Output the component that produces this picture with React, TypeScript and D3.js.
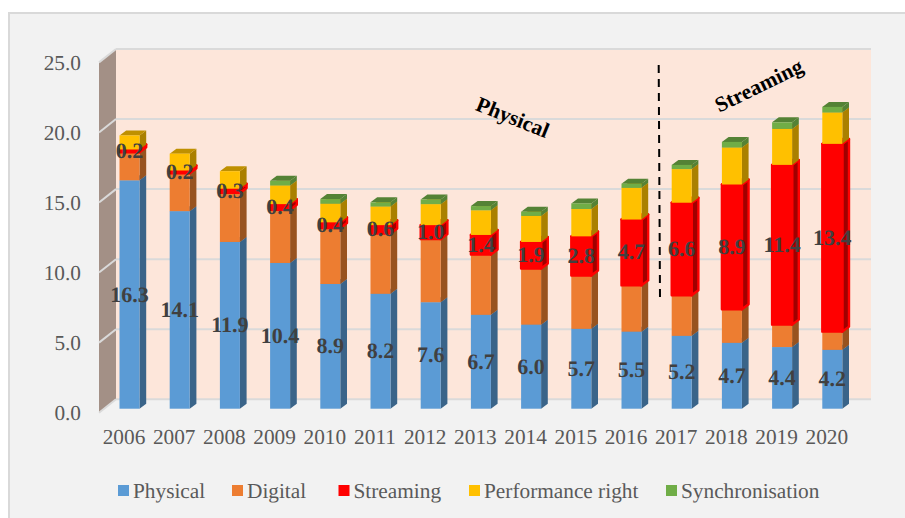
import React from 'react';
import * as d3 from 'd3';

const years = ['2006', '2007', '2008', '2009', '2010', '2011', '2012', '2013', '2014', '2015', '2016', '2017', '2018', '2019', '2020'];
const physical = [16.3, 14.1, 11.9, 10.4, 8.9, 8.2, 7.6, 6.7, 6.0, 5.7, 5.5, 5.2, 4.7, 4.4, 4.2];
const digital = [2.0, 2.7, 3.5, 3.8, 4.0, 4.3, 4.5, 4.3, 4.0, 3.8, 3.3, 2.9, 2.4, 1.6, 1.3];
const streaming = [0.2, 0.2, 0.3, 0.4, 0.4, 0.6, 1.0, 1.4, 1.9, 2.8, 4.7, 6.6, 8.9, 11.4, 13.4];
const performance_ = [1.0, 1.2, 1.25, 1.33, 1.33, 1.33, 1.5, 1.76, 1.86, 1.95, 2.26, 2.4, 2.64, 2.57, 2.24];
const synchronisation = [0, 0, 0, 0.33, 0.33, 0.3, 0.33, 0.3, 0.3, 0.4, 0.3, 0.3, 0.4, 0.47, 0.4];
const yTicks = [0, 5, 10, 15, 20, 25];

const seriesNames = ['Physical', 'Digital', 'Streaming', 'Performance right', 'Synchronisation'];
const seriesValues = [physical, digital, streaming, performance_, synchronisation];
const frontColors = ['#5B9BD5', '#ED7D31', '#FF0000', '#FFC000', '#70AD47'];
const sideColors = ['#3A6489', '#98531F', '#A00000', '#AA8000', '#548235'];
const topColors = ['#45749F', '#B25E25', '#C00000', '#BF9000', '#548235'];
const labelledSeries = [0, 2];
const legendX = [118, 232, 338.5, 469, 666];

const FONT = '"Liberation Serif", serif';
const BAR_DX = 6.7;
const BAR_DY = 5;
const FLOOR_DY = 9.4;
const WALL_DX = 17;
const WALL_DY = 13.4;

const rows = years.map((y, i) => {
  const row: any = { year: y };
  seriesNames.forEach((n, s) => { row[n] = seriesValues[s][i]; });
  return row;
});
const stacked = d3.stack().keys(seriesNames)(rows);

// back wall scale, bars and the side wall are offset from it
const y = d3.scaleLinear().domain([0, 25]).range([399.3, 49]);
const x = d3.scaleBand().domain(years).range([104.4, 857.4]).paddingInner(0.6016).paddingOuter(0.3008);

const poly = (pts: [number, number][]) => d3.line()(pts) + 'Z';

export default function App() {
  const w = x.bandwidth();
  const wallLeft = 116 - WALL_DX;
  return (
    <svg width={905} height={518} style={{ position: 'absolute', left: 0, top: 0, display: 'block' }} fontFamily={FONT} textRendering="geometricPrecision">
      <rect width={905} height={518} fill="#FFFFFF" />
      <rect x={9} y={13} width={920} height={540} fill="#F2F2F2" stroke="#D9D9D9" strokeWidth={2} />

      {/* walls */}
      <rect x={116} y={y(25)} width={871 - 116} height={y(0) - y(25)} fill="#FDE6DA" />
      <path d={poly([[wallLeft, y(25) + WALL_DY], [116, y(25)], [116, y(0)], [wallLeft, y(0) + WALL_DY]])} fill="#A39086" />
      {yTicks.map(t => (
        <g key={t}>
          <line x1={116} x2={871} y1={y(t)} y2={y(t)} stroke="#DADADA" strokeWidth={2} />
          <line x1={wallLeft} x2={116} y1={y(t) + WALL_DY} y2={y(t)} stroke="#DADADA" strokeWidth={2} />
          <text x={81} y={y(t) + WALL_DY + 7.5} textAnchor="end" fontSize={21.3} fill="#595959">{t.toFixed(1)}</text>
        </g>
      ))}

      {/* bars */}
      {years.map((yr, i) => (
        <g key={yr}>
          {stacked.map((layer, s) => {
            if (seriesValues[s][i] === 0) return null;
            const x0 = x(yr) as number;
            const x1 = x0 + w;
            const bottom = y(layer[i][0]) + FLOOR_DY;
            const top = y(layer[i][1]) + FLOOR_DY;
            const isRed = s === 2;
            const edge = isRed ? { stroke: '#FF0000', strokeWidth: 2.4, strokeLinejoin: 'round' as const } : {};
            return (
              <g key={s}>
                <path d={poly([[x1, bottom], [x1 + BAR_DX, bottom - BAR_DY], [x1 + BAR_DX, top - BAR_DY], [x1, top]])} fill={sideColors[s]} {...edge} />
                <path d={poly([[x0, top], [x1, top], [x1 + BAR_DX, top - BAR_DY], [x0 + BAR_DX, top - BAR_DY]])} fill={topColors[s]} {...edge} />
                <rect x={x0} y={top} width={w} height={bottom - top} fill={frontColors[s]} {...edge} />
              </g>
            );
          })}
        </g>
      ))}

      {/* data labels */}
      {labelledSeries.map(s =>
        years.map((yr, i) => (
          <text
            key={yr + s}
            x={(x(yr) as number) + w / 2}
            y={(y(stacked[s][i][0]) + y(stacked[s][i][1])) / 2 + FLOOR_DY + 7}
            textAnchor="middle"
            fontSize={22}
            fontWeight="bold"
            fill="#404040"
          >
            {seriesValues[s][i].toFixed(1)}
          </text>
        ))
      )}

      {/* category labels */}
      {years.map(yr => (
        <text key={yr} x={(x(yr) as number) + w / 2 - 5.5} y={444} textAnchor="middle" fontSize={21.3} fill="#595959">{yr}</text>
      ))}

      {/* annotations */}
      <line x1={658.7} y1={65} x2={660} y2={298} stroke="#000000" strokeWidth={2} strokeDasharray="8 6" />
      <text transform="translate(510,124) rotate(22)" textAnchor="middle" fontSize={21.5} fontWeight="bold" fill="#000000">Physical</text>
      <text transform="translate(762,92) rotate(-26)" textAnchor="middle" fontSize={21.5} fontWeight="bold" fill="#000000">Streaming</text>

      {/* legend */}
      {seriesNames.map((n, s) => (
        <g key={n}>
          <rect x={legendX[s]} y={485} width={11} height={11} fill={frontColors[s]} />
          <text x={legendX[s] + 15} y={497.7} fontSize={21.3} fill="#595959">{n}</text>
        </g>
      ))}
    </svg>
  );
}
